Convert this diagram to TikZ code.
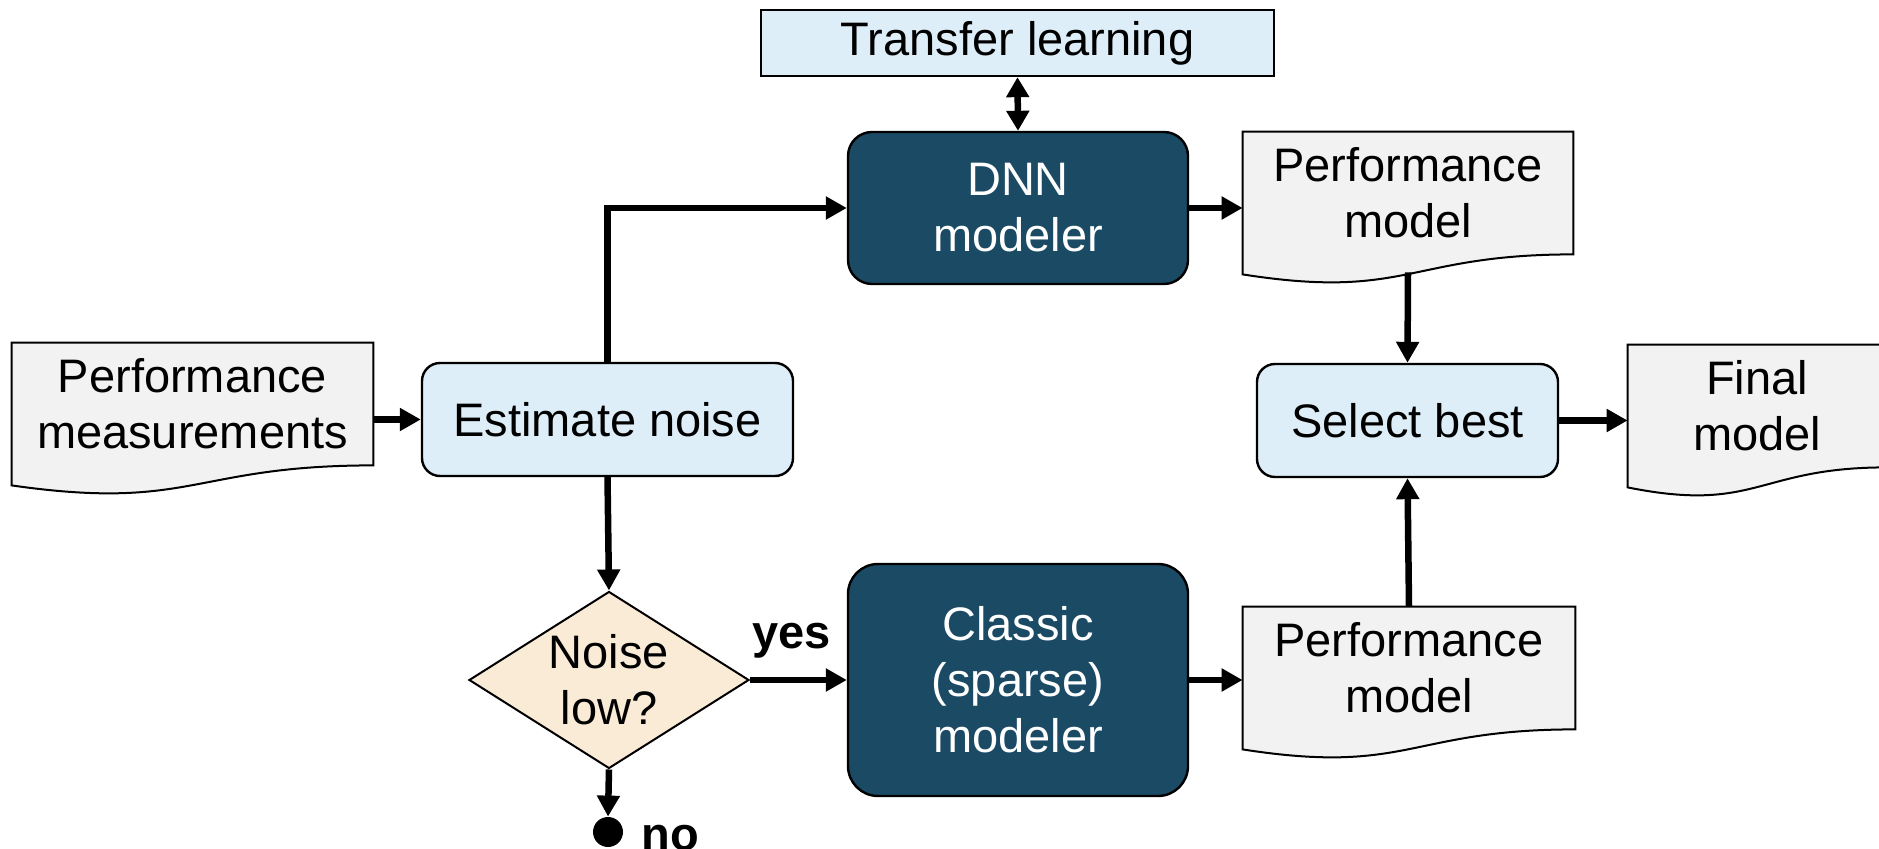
\documentclass[tikz,border=0pt]{standalone}
\usepackage{fontspec}
\setmainfont{Liberation Sans}
\usetikzlibrary{arrows.meta,shapes.geometric,calc,backgrounds}
\definecolor{lblue}{RGB}{221,238,248}
\definecolor{dnavy}{RGB}{26,74,100}
\definecolor{docgray}{RGB}{242,242,242}
\definecolor{beige}{RGB}{250,235,215}
\newcommand\drawdoc[1]{\path[docshape] (#1.north west) -- (#1.north east) -- (#1.south east) .. controls (#1.south) and ($(#1.south)+(0,46)$) .. ($(#1.south west)+(0,20)$) -- cycle;}
\begin{document}
\begin{tikzpicture}[x=0.5pt,y=-0.5pt,
  every node/.style={font=\fontsize{23.5}{28}\selectfont, align=center, inner sep=0pt},
  lightbox/.style={draw=black, line width=1.2pt, fill=lblue, rounded corners=9pt},
  darkbox/.style={draw=black, line width=1.2pt, fill=dnavy, text=white},
  docbox/.style={minimum height=61pt},
  docshape/.style={draw=black, line width=1pt, fill=docgray},
  arr/.style={line width=3.25pt, -{Triangle[length=10.5pt,width=11pt]}},
  dbl/.style={line width=3.25pt, {Triangle[length=10pt,width=11pt]}-{Triangle[length=10pt,width=11pt]}},
  lbl/.style={font=\bfseries\fontsize{23.5}{28}\selectfont}
]
\useasboundingbox (0,0) rectangle (1879,849);

% documents
\node[docbox, minimum width=180.5pt] (pmeas) at (192.5,404) {Performance\\measurements};
\node[docbox, minimum width=165pt] (pm1) at (1408,193) {Performance\\model};
\node[docbox, minimum width=166pt] (pm2) at (1409,668) {Performance\\model};
\node[docbox, minimum width=129pt] (fin) at (1757,406) {Final\\model};
\begin{scope}[on background layer]
  \drawdoc{pmeas}
  \drawdoc{pm1}
  \drawdoc{pm2}
  \drawdoc{fin}
\end{scope}

% process boxes
\node[lightbox, minimum width=185.5pt, minimum height=56.5pt] (en) at (607.5,419.5) {Estimate noise};
\node[draw=black, line width=1.2pt, fill=lblue, minimum width=256.5pt, minimum height=33pt] (tl) at (1017.5,43) {Transfer learning};
\node[darkbox, rounded corners=12pt, minimum width=170pt, minimum height=76pt] (dnn) at (1018,208) {DNN\\modeler};
\node[darkbox, rounded corners=15pt, minimum width=170pt, minimum height=116pt] (cls) at (1018,680) {Classic\\(sparse)\\modeler};
\node[lightbox, minimum width=150.5pt, minimum height=56.5pt] (sel) at (1407.5,420.5) {Select best};
\node[diamond, draw=black, line width=1pt, fill=beige, aspect=1.58, minimum width=140pt, minimum height=88.5pt] (dia) at (609,680) {Noise\\low?};
\node[circle, fill=black, minimum size=15pt] (dot) at (608,832) {};

% labels
\node[lbl, anchor=base west] (yes) at (752,648) {yes};
\node[lbl, anchor=base west] (no) at (641,850) {no};

\coordinate (pm1b) at ($(pm1.south)+(0,18)$);

% connectors
\draw[arr] (pmeas.east |- en.west) -- (en.west);
\draw[arr] (en.north) |- (dnn.west);
\draw[arr] (en.south) -- (dia.north);
\draw[arr] (dia.south) -- (dot.north);
\draw[arr] (dia.east) -- (cls.west);
\draw[dbl] (tl.south) -- (dnn.north);
\draw[arr] (dnn.east) -- (dnn.east -| pm1.west);
\draw[arr] (cls.east) -- (cls.east -| pm2.west);
\draw[arr] (pm1b) -- (sel.north);
\draw[arr] (pm2.north) -- (sel.south);
\draw[arr] (sel.east) -- (sel.east -| fin.west);
\end{tikzpicture}
\end{document}
